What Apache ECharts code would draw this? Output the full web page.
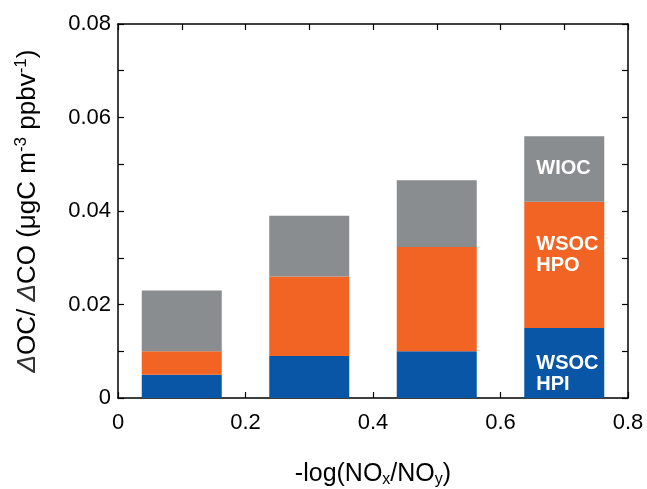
<!DOCTYPE html>
<html><head><meta charset="utf-8">
<script src="https://cdn.jsdelivr.net/npm/echarts@6/dist/echarts.min.js"></script>
<style>html,body{margin:0;padding:0;background:#fff}#c{width:647px;height:489px}</style>
</head><body><div id="c"></div>
<script>
var xPositions = [0.1, 0.3, 0.5, 0.7];
var wsocHPI = [0.005, 0.009, 0.010, 0.015];
var wsocHPO = [0.005, 0.017, 0.0223, 0.027];
var wioc = [0.013, 0.013, 0.0143, 0.014];
var xTicks = [0, 0.2, 0.4, 0.6, 0.8];
var yTicks = [0, 0.02, 0.04, 0.06, 0.08];
var segNames = ['WSOC\nHPI', 'WSOC\nHPO', 'WIOC'];

var FONT = 'Liberation Sans';
var chart = echarts.init(document.getElementById('c'));

function mk(vals, color, name, offset) {
  return {
    type: 'bar', stack: 'oc', barWidth: 80, xAxisIndex: 0, yAxisIndex: 0,
    itemStyle: { color: color },
    data: vals.map(function (v, i) {
      var d = { value: v };
      if (i === vals.length - 1) {
        d.label = { show: true, position: 'insideLeft', distance: 12, offset: offset,
          formatter: name, color: '#fff', fontWeight: 'bold', fontSize: 20,
          lineHeight: 21, fontFamily: FONT, align: 'left' };
      }
      return d;
    })
  };
}

var axisLine = { show: true, onZero: false, lineStyle: { color: '#000', width: 1.5 } };
var tick = { show: true, inside: true, length: 6, lineStyle: { color: '#000', width: 1.2 } };
var minor = { show: true, splitNumber: 2, length: 6, lineStyle: { color: '#000', width: 1.2 } };
chart.setOption({
  animation: false,
  grid: { left: 118, right: 19, top: 24, bottom: 91, containLabel: false, outerBoundsMode: 'none' },
  xAxis: [{
    type: 'category', data: xPositions.map(String), show: false, boundaryGap: true
  }, {
    type: 'value', position: 'bottom', min: 0, max: 0.8, interval: 0.2,
    axisLine: axisLine, axisTick: tick, minorTick: minor,
    splitLine: { show: false },
    axisLabel: { color: '#000', fontSize: 22, fontFamily: FONT, margin: 14,
      formatter: function (v) { return String(xTicks[Math.round(v / 0.2)]); } },
    name: '-log(NO{s|x}/NO{s|y})', nameLocation: 'middle', nameGap: 62,
    nameTextStyle: { color: '#000', fontSize: 25, fontFamily: FONT,
      rich: { s: { fontSize: 16, verticalAlign: 'bottom', padding: [12, 0, 0, 0], fontFamily: FONT } } }
  }, {
    type: 'value', position: 'top', min: 0, max: 0.8, interval: 0.2,
    axisLine: axisLine, axisTick: tick, minorTick: minor,
    splitLine: { show: false }, axisLabel: { show: false }
  }],
  yAxis: [{
    type: 'value', min: 0, max: 0.08, interval: 0.02,
    axisLine: axisLine, axisTick: tick, minorTick: minor,
    splitLine: { show: false },
    axisLabel: { color: '#000', fontSize: 22, fontFamily: FONT, margin: 7,
      formatter: function (v) { return String(yTicks[Math.round(v / 0.02)]); } },
    name: '{d|\u0394}OC/ {d|\u0394}CO (\u03bcgC m{p|-3} ppbv{p|-1})', nameLocation: 'middle', nameGap: 76,
    nameRotate: 90,
    nameTextStyle: { color: '#000', fontSize: 26, fontFamily: FONT,
      rich: { d: { fontStyle: 'italic', fontSize: 26, fontFamily: FONT, color: '#333' },
              p: { fontSize: 17, verticalAlign: 'top', padding: [0, 0, 12, 0], fontFamily: FONT } } }
  }, {
    type: 'value', position: 'right', min: 0, max: 0.08, interval: 0.02,
    axisLine: axisLine, axisTick: tick, minorTick: minor,
    splitLine: { show: false }, axisLabel: { show: false }
  }],
  series: [
    mk(wsocHPI, '#0a56a6', segNames[0], [0, 11]),
    mk(wsocHPO, '#f26424', segNames[1], [0, -10]),
    mk(wioc, '#898d8f', segNames[2], [0, 0])
  ]
});
</script></body></html>
